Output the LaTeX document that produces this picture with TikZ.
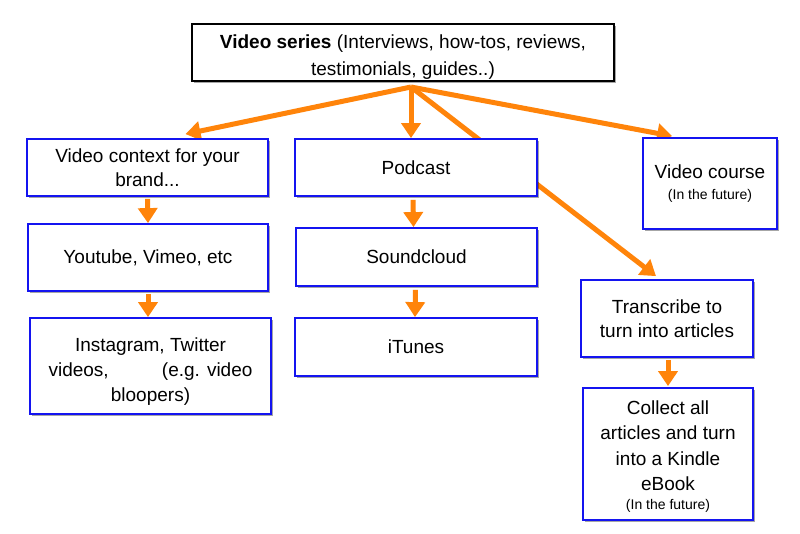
\documentclass[tikz,border=0pt]{standalone}
\usepackage{fontspec}
\setmainfont{Liberation Sans}
\usetikzlibrary{arrows.meta,shadows,calc,backgrounds}
\definecolor{arrorange}{RGB}{255,132,10}
\definecolor{boxblue}{RGB}{20,20,240}
\newcommand{\futuretext}{\fontsize{14}{16}\selectfont (In the future)}
\tikzset{
  bluebox/.style={draw=boxblue, line width=1.8pt, fill=white, align=center,
    inner sep=2pt, font=\fontsize{19}{24}\selectfont,
    drop shadow={shadow xshift=1.5pt, shadow yshift=-1.5pt, opacity=0.35, fill=black}},
  topbox/.style={draw=black, line width=1.8pt, fill=white, align=center,
    inner sep=2pt, font=\fontsize{19}{27}\selectfont,
    drop shadow={shadow xshift=1.5pt, shadow yshift=-1.5pt, opacity=0.35, fill=black}},
  flowarrow/.style={draw=arrorange, line width=5pt,
    -{Triangle[width=19pt,length=15pt]}}
}
\begin{document}
\begin{tikzpicture}[x=1pt,y=-1pt]
\useasboundingbox (0,0) rectangle (800,533);

\node[topbox, minimum width=422pt, minimum height=57pt] (top) at (403,52.5)
  {\rule{0pt}{22pt}\textbf{Video series} (Interviews, how-tos, reviews,\\testimonials, guides..)};

\node[bluebox, minimum width=241pt, minimum height=57pt] (vc) at (147.5,167.5)
  {Video context for your\\brand...};
\node[bluebox, minimum width=240pt, minimum height=67pt] (yt) at (148,257.5)
  {Youtube, Vimeo, etc};
\node[bluebox, minimum width=241pt, minimum height=96pt, font=\fontsize{19}{25}\selectfont] (ig) at (150.5,366)
  {\rule{0pt}{24pt}Instagram, Twitter\\videos,\hspace{2.8em}(e.g. video\\bloopers)};

\node[bluebox, minimum width=242pt, minimum height=57pt] (pod) at (416,167.5)
  {Podcast};
\node[bluebox, minimum width=241pt, minimum height=58pt] (sc) at (416.5,257)
  {Soundcloud};
\node[bluebox, minimum width=242pt, minimum height=58pt] (it) at (416,347)
  {iTunes};

\node[bluebox, minimum width=134pt, minimum height=91pt] (course) at (710,183.5)
  {Video course\\[-3pt]\futuretext};
\node[bluebox, minimum width=172pt, minimum height=77pt] (tr) at (667,318.5)
  {Transcribe to\\turn into articles};
\node[bluebox, minimum width=170pt, minimum height=132pt, inner ysep=0pt, font=\fontsize{19}{25.5}\selectfont] (col) at (668,454)
  {\rule{0pt}{18pt}Collect all\\articles and turn\\into a Kindle\\eBook\\[-7pt]\futuretext};

\coordinate (hub) at (411,87);

\begin{scope}[on background layer]
  \fill[white] (0,0) rectangle (800,533);
  \draw[flowarrow] (hub) -- ($(vc.north)+(38,-4)$);
  \draw[flowarrow] (hub) -- (hub |- pod.north);
  \draw[flowarrow] (hub) -- ($(course.north west)+(30,-1)$);
  \draw[flowarrow] (hub) -- ($(tr.north)+(-11,-3)$);
  \draw[flowarrow, shorten <=2pt] (vc.south) -- (yt.north);
  \draw[flowarrow, shorten <=2pt] (yt.south) -- (yt.south |- ig.north);
  \draw[flowarrow, shorten <=3pt] ($(pod.south)+(-3,0)$) -- ($(sc.north)+(-3,0)$);
  \draw[flowarrow, shorten <=3pt] ($(sc.south)+(-1,0)$) -- ($(it.north)+(-1,0)$);
  \draw[flowarrow, shorten <=2pt] (col.north |- tr.south) -- ($(col.north)+(0,-1)$);
\end{scope}
\end{tikzpicture}
\end{document}
